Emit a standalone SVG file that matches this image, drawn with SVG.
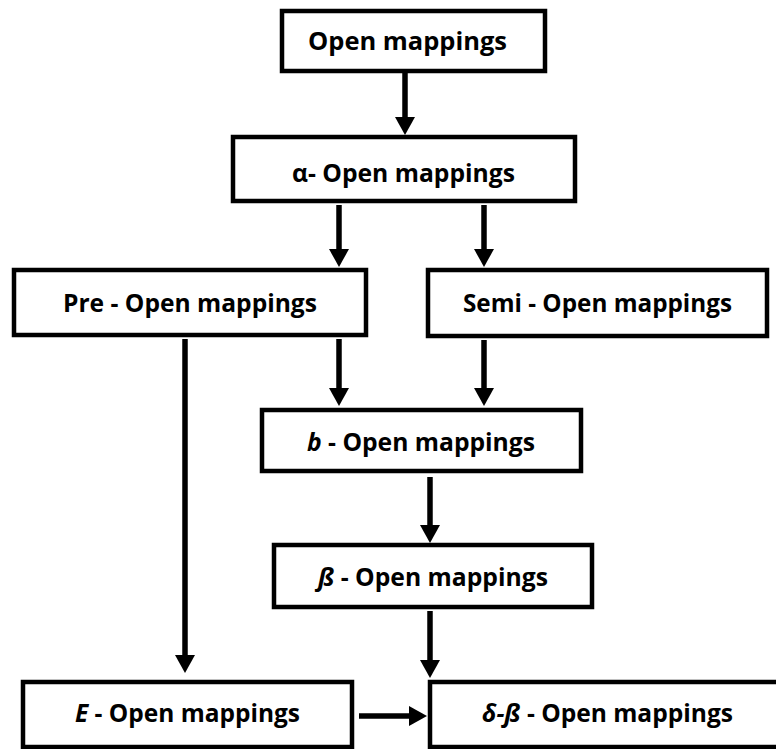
<svg xmlns="http://www.w3.org/2000/svg" width="776" height="749" viewBox="0 0 776 749">
<style>
.box{fill:#fff;stroke:#000;stroke-width:4.5}
.lbl{font-family:"Open Sans","Noto Sans","DejaVu Sans",sans-serif;font-weight:bold;font-size:25px;fill:#000}
.it{font-style:italic}
.conn{stroke:#000;stroke-width:5.5;fill:none}
</style>
<defs>
<marker id="ah" markerUnits="userSpaceOnUse" markerWidth="18" markerHeight="20" viewBox="0 0 18 20" refX="1" refY="10" orient="auto">
<path d="M0,0 L18,10 L0,20 Z" fill="#000"/>
</marker>
</defs>
<rect width="776" height="749" fill="#fff"/>
<g id="connectors">
<line class="conn" x1="405" y1="73" x2="405" y2="118" marker-end="url(#ah)"/>
<line class="conn" x1="339" y1="205" x2="339" y2="250" marker-end="url(#ah)"/>
<line class="conn" x1="484" y1="205" x2="484" y2="250" marker-end="url(#ah)"/>
<line class="conn" x1="185" y1="339" x2="185" y2="656" marker-end="url(#ah)"/>
<line class="conn" x1="339" y1="339" x2="339" y2="389" marker-end="url(#ah)"/>
<line class="conn" x1="484" y1="340" x2="484" y2="389" marker-end="url(#ah)"/>
<line class="conn" x1="430" y1="477" x2="430" y2="526" marker-end="url(#ah)"/>
<line class="conn" x1="430" y1="611" x2="430" y2="661" marker-end="url(#ah)"/>
<line class="conn" x1="359" y1="716" x2="410" y2="716" marker-end="url(#ah)"/>
</g>
<g id="open">
<rect class="box" x="282" y="11" width="263" height="60"/>
<text class="lbl" x="308" y="50" textLength="199" lengthAdjust="spacingAndGlyphs">Open mappings</text>
</g>
<g id="alpha">
<rect class="box" x="233" y="137" width="342" height="64"/>
<text class="lbl" x="292" y="182" textLength="223" lengthAdjust="spacingAndGlyphs">α- Open mappings</text>
</g>
<g id="pre">
<rect class="box" x="14" y="270" width="352" height="65"/>
<text class="lbl" x="63" y="312" textLength="254" lengthAdjust="spacingAndGlyphs">Pre - Open mappings</text>
</g>
<g id="semi">
<rect class="box" x="428" y="270" width="339" height="66"/>
<text class="lbl" x="463" y="312" textLength="269" lengthAdjust="spacingAndGlyphs">Semi - Open mappings</text>
</g>
<g id="b">
<rect class="box" x="262" y="410" width="319" height="61"/>
<text class="lbl" x="307" y="451" textLength="228" lengthAdjust="spacingAndGlyphs"><tspan class="it">b</tspan> - Open mappings</text>
</g>
<g id="beta">
<rect class="box" x="274" y="545" width="318" height="62"/>
<text class="lbl" x="318" y="586" textLength="230" lengthAdjust="spacingAndGlyphs"><tspan class="it">ß</tspan> - Open mappings</text>
</g>
<g id="e">
<rect class="box" x="23" y="682" width="329" height="65"/>
<text class="lbl" x="75" y="722" textLength="225" lengthAdjust="spacingAndGlyphs"><tspan class="it">E</tspan> - Open mappings</text>
</g>
<g id="deltabeta">
<rect class="box" x="430" y="682" width="355" height="65"/>
<text class="lbl" x="482" y="722" textLength="251" lengthAdjust="spacingAndGlyphs"><tspan class="it">δ-ß</tspan> - Open mappings</text>
</g>
</svg>
